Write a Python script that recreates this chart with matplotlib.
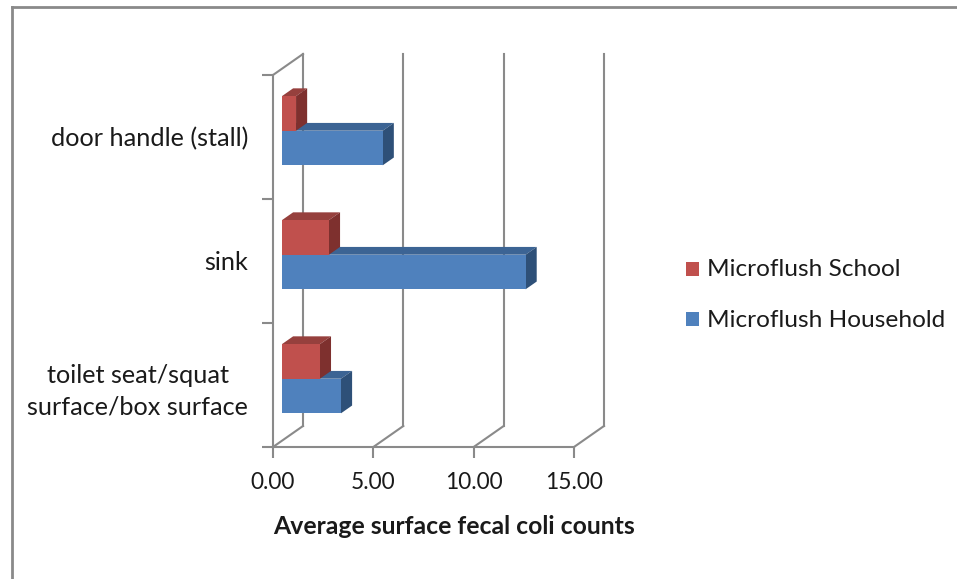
import matplotlib
matplotlib.use("Agg")
import matplotlib.pyplot as plt
from matplotlib.patches import Polygon, Patch
from matplotlib.lines import Line2D
import numpy as np

categories = ["door handle (stall)", "sink", "toilet seat/squat\nsurface/box surface"]
school = [0.70, 2.34, 1.89]
household = [5.02, 12.14, 2.94]
series_names = ["Microflush School", "Microflush Household"]
xticks = [0, 5, 10, 15]
xtick_labels = ["0.00", "5.00", "10.00", "15.00"]
xlabel = "Average surface fecal coli counts"

W, H = 957, 579
DPI = 100
plt.rcParams['font.family'] = ['Lato', 'DejaVu Sans']

fig = plt.figure(figsize=(W / DPI, H / DPI), dpi=DPI)

def fx(x):
    return x / W

def fy(y):
    return 1 - y / H

# front plane of plot area
L, R, T, B = 273, 574, 75, 447
ax = fig.add_axes([fx(L), fy(B), fx(R) - fx(L), fy(T) - fy(B)])
ax.set_xlim(0, 15)
ax.set_ylim(2.5, -0.5)
ax.patch.set_visible(False)
for s in ["top", "right"]:
    ax.spines[s].set_visible(False)
GRAY = "#8a8a8a"
LW = 1.5
for s in ["left", "bottom"]:
    ax.spines[s].set_color(GRAY)
    ax.spines[s].set_linewidth(LW)

# 3D depth offsets in pixels (back plane)
BX, BY = 30.0, 21.0
sx = (R - L) / 15.0
sy = (B - T) / 3.0

def sh(x, y, f):
    return (x + f * BX / sx, y - f * BY / sy)

# back wall gridlines and floor/wall diagonals
for xv in xticks:
    p0 = sh(xv, -0.5, 1)
    p1 = sh(xv, 2.5, 1)
    ax.add_line(Line2D([p0[0], p1[0]], [p0[1], p1[1]], color=GRAY, lw=LW, clip_on=False, zorder=1))
    q = sh(xv, 2.5, 1)
    ax.add_line(Line2D([xv, q[0]], [2.5, q[1]], color=GRAY, lw=LW, clip_on=False, zorder=1))
q = sh(0, -0.5, 1)
ax.add_line(Line2D([0, q[0]], [-0.5, q[1]], color=GRAY, lw=LW, clip_on=False, zorder=1))

# ticks
ax.set_xticks(xticks)
ax.set_xticklabels(xtick_labels)
ax.tick_params(axis="x", direction="out", length=8, width=LW, color=GRAY, pad=10,
               labelsize=15, labelcolor="#1a1a1a")
ax.set_yticks([0, 1, 2])
ax.set_yticklabels(categories)
ax.set_yticks([-0.5, 0.5, 1.5, 2.5], minor=True)
ax.tick_params(axis="y", which="major", length=0, pad=18, labelsize=15, labelcolor="#1a1a1a")
ax.tick_params(axis="y", which="minor", direction="out", length=8, width=LW, color=GRAY)
for t in ax.get_yticklabels():
    t.set_multialignment("center")
    t.set_linespacing(1.45)

# bars
bh = 0.279
F0, F1 = 0.3, 0.67
colors = {
    "school": ("#C0504D", "#7E302E", "#96403D"),
    "household": ("#4F81BD", "#2E5078", "#3C6494"),
}

def bar3d(y_center, value, cols, z):
    front, side, top = cols
    y0, y1 = y_center - bh / 2, y_center + bh / 2  # y0 is upper edge (inverted axis)
    p = [sh(0, y0, F0), sh(value, y0, F0), sh(value, y1, F0), sh(0, y1, F0)]
    tp = [sh(0, y0, F0), sh(value, y0, F0), sh(value, y0, F1), sh(0, y0, F1)]
    sp = [sh(value, y0, F0), sh(value, y0, F1), sh(value, y1, F1), sh(value, y1, F0)]
    for poly, c in ((tp, top), (sp, side), (p, front)):
        ax.add_patch(Polygon(poly, closed=True, facecolor=c, edgecolor="none",
                             clip_on=False, zorder=z))

ys = np.arange(len(categories))
for i in ys:
    bar3d(i + bh / 2, household[i], colors["household"], 3)
for i in ys:
    bar3d(i - bh / 2, school[i], colors["school"], 4)

# axis title
title = fig.text(fx(454.5), fy(527), xlabel, ha="center", va="center",
                 fontsize=15, fontweight="bold", color="#1a1a1a")

# legend
handles = [Patch(facecolor=colors["school"][0], edgecolor="none"),
           Patch(facecolor=colors["household"][0], edgecolor="none")]
leg = fig.legend(handles, series_names, loc="center left",
                 bbox_to_anchor=(fx(686), fy(295)), frameon=False,
                 fontsize=15, handlelength=0.62, handleheight=0.62,
                 handletextpad=0.4, labelspacing=1.4, borderpad=0, borderaxespad=0)
for t in leg.get_texts():
    t.set_color("#1a1a1a")

# outer border (left and top visible)
fig.add_artist(Line2D([fx(11.5), fx(11.5)], [fy(7), fy(579)], color=GRAY, lw=2))
fig.add_artist(Line2D([fx(11.5), fx(957)], [fy(7), fy(7)], color=GRAY, lw=2))

# fit font sizes to measured widths
fig.canvas.draw()
r = fig.canvas.get_renderer()

def fit(t, w):
    bb = t.get_window_extent(r)
    return t.get_fontsize() * w / bb.width

ylabs = ax.get_yticklabels()
fs_cat = fit(ylabs[0], 198)
for t in ylabs:
    t.set_fontsize(fs_cat)
xl = ax.get_xticklabels()
fs_x = fit(xl[-1], 58)
for t in xl:
    t.set_fontsize(fs_x)
title.set_fontsize(fit(title, 363))
lt = leg.get_texts()
fs_l = fit(lt[1], 238)
for t in lt:
    t.set_fontsize(fs_l)

fig.savefig("out.png", dpi=DPI)
